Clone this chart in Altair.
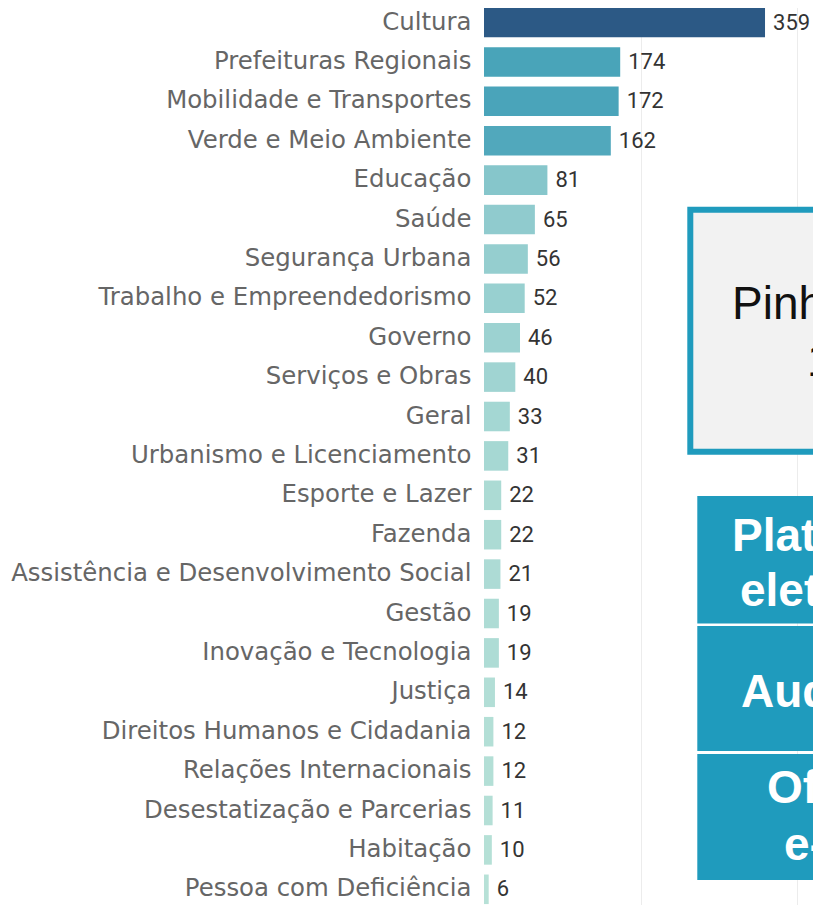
import altair as alt
import pandas as pd

categories = ["Cultura", "Prefeituras Regionais", "Mobilidade e Transportes",
              "Verde e Meio Ambiente", "Educação", "Saúde", "Segurança Urbana",
              "Trabalho e Empreendedorismo", "Governo", "Serviços e Obras", "Geral",
              "Urbanismo e Licenciamento", "Esporte e Lazer", "Fazenda",
              "Assistência e Desenvolvimento Social", "Gestão", "Inovação e Tecnologia",
              "Justiça", "Direitos Humanos e Cidadania", "Relações Internacionais",
              "Desestatização e Parcerias", "Habitação", "Pessoa com Deficiência"]
values = [359, 174, 172, 162, 81, 65, 56, 52, 46, 40, 33, 31, 22, 22, 21, 19, 19,
          14, 12, 12, 11, 10, 6]

blue_teal = ["#bce4d8", "#aedcd5", "#a1d5d2", "#95cecf", "#89c8cc", "#7ec1ca",
             "#72bac6", "#66b2c2", "#59acbe", "#4ba5ba", "#419eb6", "#3b96b2",
             "#358ead", "#3586a7", "#347ea1", "#32779b", "#316f96", "#2f6790",
             "#2d5f8a", "#2c5985"]

df = pd.DataFrame({"categoria": categories, "valor": values})

base = alt.Chart(df).encode(
    y=alt.Y("categoria:N", sort=categories,
            scale=alt.Scale(range=[-5.2, 901.0], paddingInner=0.25, paddingOuter=0.125),
            axis=alt.Axis(title=None, ticks=False, domain=False, labelFont="DejaVu Sans",
                          labelFontSize=24.4, labelColor="#666666", labelPadding=13,
                          labelLimit=700)),
    x=alt.X("valor:Q", scale=alt.Scale(domain=[0, 420.3], nice=False),
            axis=alt.Axis(values=[200, 400], grid=True, gridColor="#ececec",
                          labels=False, ticks=False, domain=False, title=None)),
)

bars = base.mark_bar().encode(
    color=alt.Color("valor:Q", scale=alt.Scale(domain=[0, 359], range=blue_teal), legend=None)
)
labels = base.mark_text(align="left", dx=8, font="Roboto", fontSize=22,
                        color="#333333").encode(text="valor:Q")

one = pd.DataFrame({"a": [0]})
TEAL = "#1f9bbd"

def rect(x, x2, y, y2, **kw):
    return alt.Chart(one).mark_rect(**kw).encode(
        x=alt.value(x), x2=alt.value(x2), y=alt.value(y), y2=alt.value(y2))

def txt(s, x, y, color, weight="normal"):
    return alt.Chart(one).mark_text(text=s, align="left", baseline="alphabetic",
                                    font="Liberation Sans", fontSize=46,
                                    fontWeight=weight, color=color).encode(
        x=alt.value(x), y=alt.value(y))

box1 = rect(206.3, 400, 201.7, 443.7, fill="#f2f2f2", stroke=TEAL, strokeWidth=6)
box2 = rect(213.3, 400, 488, 615.5, fill=TEAL)
box3 = rect(213.3, 400, 618, 743, fill=TEAL)
box4 = rect(213.3, 400, 746, 872, fill=TEAL)

texts = [
    txt("Pinheiros", 248, 311, "#111111"),
    txt("1", 323, 368, "#111111"),
    txt("Plataformas", 248, 543, "white", "bold"),
    txt("eletrônicas", 256, 598, "white", "bold"),
    txt("Audiências", 257, 699, "white", "bold"),
    txt("Ofícios", 283, 795, "white", "bold"),
    txt("e-mails", 300, 852, "white", "bold"),
]

chart = alt.layer(bars, labels, box1, box2, box3, box4, *texts).properties(
    width=329, height=897,
    autosize=alt.AutoSizeParams(type="none"),
    padding={"left": 476, "top": 0, "right": 0, "bottom": 0},
).configure_view(stroke=None)

chart.save("out.html", embed_options={"renderer": "svg", "actions": False})
